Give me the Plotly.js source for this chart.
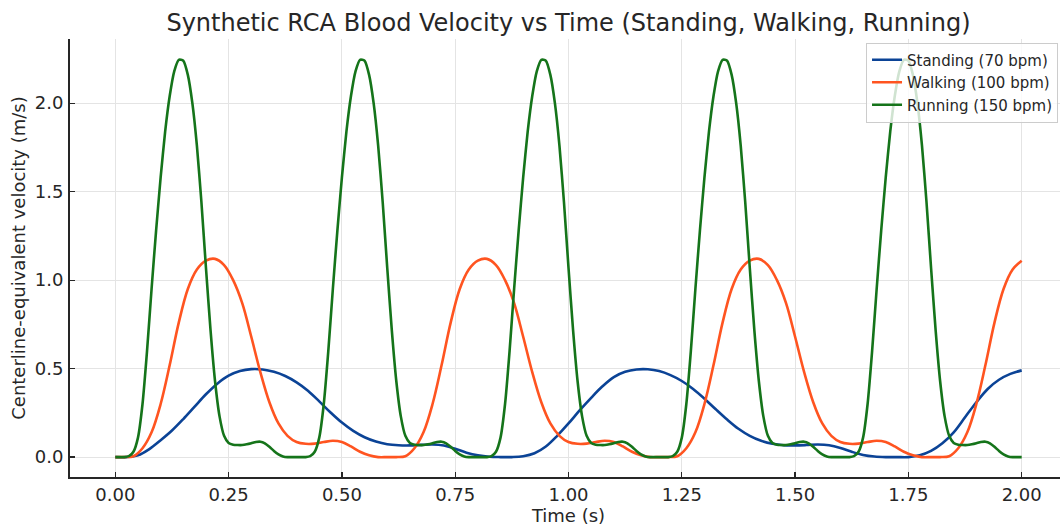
<!DOCTYPE html>
<html>
<head>
<meta charset="utf-8">
<script src="https://cdn.plot.ly/plotly-3.0.1.min.js"></script>
<style>
  html, body { margin: 0; padding: 0; background: #ffffff; overflow: hidden; }
  #chart { width: 1067px; height: 527px; }
</style>
</head>
<body>
<div id="chart"></div>
<script>
// ---- Data ----
const seriesNames = ["Standing (70 bpm)", "Walking (100 bpm)", "Running (150 bpm)"];

// Standing: samples every 0.025 s from 0.00 to 2.00 s
const standingStep = 0.025;
const standingVel = [
  0, 0, 0.01, 0.045, 0.095, 0.15, 0.215, 0.285, 0.355, 0.415,
  0.46, 0.486, 0.497, 0.495, 0.482, 0.458, 0.422, 0.375, 0.315, 0.252,
  0.195, 0.148, 0.112, 0.088, 0.073, 0.067, 0.066, 0.069, 0.071, 0.065,
  0.047, 0.025, 0.01, 0.002, 0, 0, 0.005, 0.022, 0.06, 0.12,
  0.19, 0.265, 0.335, 0.4, 0.452, 0.482, 0.495, 0.496, 0.486, 0.463,
  0.43, 0.385, 0.33, 0.27, 0.212, 0.16, 0.12, 0.092, 0.075, 0.067,
  0.066, 0.068, 0.071, 0.067, 0.052, 0.03, 0.012, 0.003, 0, 0,
  0, 0.01, 0.035, 0.078, 0.14, 0.225, 0.31, 0.385, 0.437, 0.47,
  0.49
];

// Walking: samples every 0.02 s from 0.00 to 2.00 s
const walkingStep = 0.02;
const walkingVel = [
  0, 0, 0.005, 0.05, 0.14, 0.30, 0.52, 0.76, 0.95, 1.06,
  1.11, 1.12, 1.085, 1.0, 0.87, 0.68, 0.48, 0.31, 0.19, 0.12,
  0.085, 0.075, 0.076, 0.085, 0.092, 0.085, 0.06, 0.03, 0.01, 0,
  0, 0, 0.005, 0.05, 0.14, 0.30, 0.52, 0.76, 0.95, 1.06,
  1.11, 1.12, 1.085, 1.0, 0.87, 0.68, 0.48, 0.31, 0.19, 0.12,
  0.085, 0.075, 0.076, 0.085, 0.092, 0.085, 0.06, 0.03, 0.01, 0,
  0, 0, 0.005, 0.05, 0.14, 0.30, 0.52, 0.76, 0.95, 1.06,
  1.11, 1.12, 1.085, 1.0, 0.87, 0.68, 0.48, 0.31, 0.19, 0.12,
  0.085, 0.075, 0.076, 0.085, 0.092, 0.085, 0.06, 0.03, 0.01, 0,
  0, 0, 0.005, 0.05, 0.14, 0.30, 0.52, 0.76, 0.95, 1.06,
  1.11
];

// Running: samples every 0.01 s from 0.00 to 2.00 s
const runningStep = 0.01;
const runningVel = [
  0, 0, 0, 0.005, 0.03, 0.11, 0.30, 0.60, 0.95, 1.28,
  1.58, 1.84, 2.04, 2.18, 2.245, 2.24, 2.16, 2.00, 1.76, 1.44,
  1.07, 0.72, 0.43, 0.23, 0.12, 0.08, 0.07, 0.068, 0.068, 0.072,
  0.078, 0.085, 0.087, 0.078, 0.058, 0.035, 0.015, 0.004, 0, 0,
  0, 0, 0, 0.005, 0.03, 0.11, 0.30, 0.60, 0.95, 1.28,
  1.58, 1.84, 2.04, 2.18, 2.245, 2.24, 2.16, 2.00, 1.76, 1.44,
  1.07, 0.72, 0.43, 0.23, 0.12, 0.08, 0.07, 0.068, 0.068, 0.072,
  0.078, 0.085, 0.087, 0.078, 0.058, 0.035, 0.015, 0.004, 0, 0,
  0, 0, 0, 0.005, 0.03, 0.11, 0.30, 0.60, 0.95, 1.28,
  1.58, 1.84, 2.04, 2.18, 2.245, 2.24, 2.16, 2.00, 1.76, 1.44,
  1.07, 0.72, 0.43, 0.23, 0.12, 0.08, 0.07, 0.068, 0.068, 0.072,
  0.078, 0.085, 0.087, 0.078, 0.058, 0.035, 0.015, 0.004, 0, 0,
  0, 0, 0, 0.005, 0.03, 0.11, 0.30, 0.60, 0.95, 1.28,
  1.58, 1.84, 2.04, 2.18, 2.245, 2.24, 2.16, 2.00, 1.76, 1.44,
  1.07, 0.72, 0.43, 0.23, 0.12, 0.08, 0.07, 0.068, 0.068, 0.072,
  0.078, 0.085, 0.087, 0.078, 0.058, 0.035, 0.015, 0.004, 0, 0,
  0, 0, 0, 0.005, 0.03, 0.11, 0.30, 0.60, 0.95, 1.28,
  1.58, 1.84, 2.04, 2.18, 2.245, 2.24, 2.16, 2.00, 1.76, 1.44,
  1.07, 0.72, 0.43, 0.23, 0.12, 0.08, 0.07, 0.068, 0.068, 0.072,
  0.078, 0.085, 0.087, 0.078, 0.058, 0.035, 0.015, 0.004, 0, 0,
  0
];

const xTickVals = [0, 0.25, 0.5, 0.75, 1.0, 1.25, 1.5, 1.75, 2.0];
const xTickText = ["0.00", "0.25", "0.50", "0.75", "1.00", "1.25", "1.50", "1.75", "2.00"];
const yTickVals = [0, 0.5, 1.0, 1.5, 2.0];
const yTickText = ["0.0", "0.5", "1.0", "1.5", "2.0"];

// ---- Styling ----
const colors = ["#0b4396", "#ff5420", "#15741a"];
const smoothings = [1.0, 1.0, 0.6];
const lineStyle = (i) => ({ color: colors[i], width: 2.6, shape: "spline", smoothing: smoothings[i] });

const traces = [
  { type: "scatter", mode: "lines", name: seriesNames[0], x0: 0, dx: standingStep, y: standingVel, line: lineStyle(0) },
  { type: "scatter", mode: "lines", name: seriesNames[1], x0: 0, dx: walkingStep, y: walkingVel, line: lineStyle(1) },
  { type: "scatter", mode: "lines", name: seriesNames[2], x0: 0, dx: runningStep, y: runningVel, line: lineStyle(2) }
];

const textColor = "#262626";
const axisCommon = {
  showgrid: true,
  gridcolor: "#e4e4e4",
  gridwidth: 1,
  zeroline: false,
  showline: true,
  linecolor: textColor,
  linewidth: 2,
  ticks: "inside",
  ticklen: 5,
  tickwidth: 1.2,
  tickcolor: textColor,
  tickfont: { family: "DejaVu Sans", size: 18, color: textColor },
  tickmode: "array",
  automargin: false
};

const layout = {
  width: 1067,
  height: 527,
  margin: { l: 70, r: 0, t: 39, b: 50 },
  paper_bgcolor: "#ffffff",
  plot_bgcolor: "#ffffff",
  font: { family: "DejaVu Sans", color: textColor },
  title: {
    text: "Synthetic RCA Blood Velocity vs Time (Standing, Walking, Running)",
    font: { family: "DejaVu Sans", size: 24, color: textColor },
    xref: "paper", x: 0.5, xanchor: "center",
    yref: "container", y: 0.958, yanchor: "middle"
  },
  xaxis: Object.assign({}, axisCommon, {
    range: [-0.1, 2.1],
    tickvals: xTickVals,
    ticktext: xTickText,
    ticklabelstandoff: 0,
    title: { text: "Time (s)", font: { family: "DejaVu Sans", size: 18, color: textColor }, standoff: 4 }
  }),
  yaxis: Object.assign({}, axisCommon, {
    range: [-0.1125, 2.3625],
    tickvals: yTickVals,
    ticktext: yTickText,
    ticklabelstandoff: 1,
    title: { text: "Centerline-equivalent velocity (m/s)", font: { family: "DejaVu Sans", size: 18, color: textColor }, standoff: 4 }
  }),
  showlegend: true,
  legend: {
    x: 0.991, xanchor: "right", xref: "paper",
    y: 0.992, yanchor: "top", yref: "paper",
    bgcolor: "rgba(255,255,255,0.8)",
    bordercolor: "#cccccc",
    borderwidth: 1,
    font: { family: "DejaVu Sans", size: 15, color: textColor },
    tracegroupgap: 0
  }
};

Plotly.newPlot("chart", traces, layout, { displayModeBar: false, staticPlot: true });
</script>
</body>
</html>
